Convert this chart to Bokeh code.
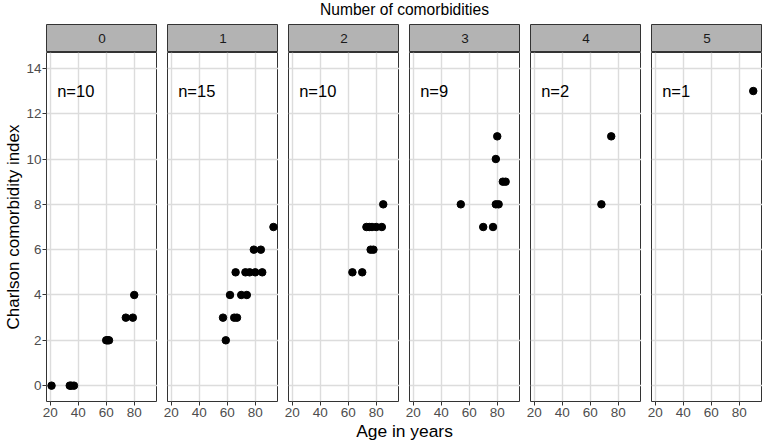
from bokeh.plotting import figure
from bokeh.layouts import column, row
from bokeh.models import Range1d, FixedTicker, ColumnDataSource
from bokeh.core.properties import value
from bokeh.embed import file_html
from bokeh.resources import INLINE

# ---- data ----
comorbidities = [0, 1, 2, 3, 4, 5]
ages_0 = [21, 34, 35, 37, 60, 61, 62, 74, 79, 80]
cci_0 = [0, 0, 0, 0, 2, 2, 2, 3, 3, 4]
ages_1 = [93, 79, 84, 66, 73, 76, 80, 85, 62, 70, 74, 57, 65, 67, 59]
cci_1 = [7, 6, 6, 5, 5, 5, 5, 5, 4, 4, 4, 3, 3, 3, 2]
ages_2 = [85, 73, 75, 77, 80, 84, 76, 78, 63, 70]
cci_2 = [8, 7, 7, 7, 7, 7, 6, 6, 5, 5]
ages_3 = [80, 79, 84, 86, 54, 79, 81, 70, 77]
cci_3 = [11, 10, 9, 9, 8, 8, 8, 7, 7]
ages_4 = [68, 75]
cci_4 = [8, 11]
ages_5 = [90]
cci_5 = [13]

ages = [ages_0, ages_1, ages_2, ages_3, ages_4, ages_5]
ccis = [cci_0, cci_1, cci_2, cci_3, cci_4, cci_5]

x_ticks = [20, 40, 60, 80]
y_ticks = [0, 2, 4, 6, 8, 10, 12, 14]
y_limits = (0, 14)
n_label_x = 25
n_label_y = 13

title_text = "Number of comorbidities"
x_title = "Age in years"
y_title = "Charlson comorbidity index"

# ---- style ----
FONT = "Liberation Sans"
FRAME_W = 111
GAP = 10
LEFT = 46
TITLE_H = 24
STRIP_H = 28
PANEL_H = 349
XLAB_H = 21
STRIP_FILL = "#B3B3B3"
BORDER = "#333333"
GRID = "#DCDCDC"

all_ages = [a for grp in ages for a in grp]
xpad = 0.05 * (max(all_ages) - min(all_ages))
x0, x1 = min(all_ages) - xpad, max(all_ages) + xpad
ypad = 0.05 * (y_limits[1] - y_limits[0])
y0, y1 = y_limits[0] - ypad, y_limits[1] + ypad

strips = []
panels = []
for i, c in enumerate(comorbidities):
    lb = LEFT if i == 0 else GAP
    s = figure(frame_width=FRAME_W, frame_height=STRIP_H,
               x_range=Range1d(x0, x1), y_range=Range1d(0, 1),
               x_axis_location=None, y_axis_location=None,
               output_backend="svg", toolbar_location=None,
               min_border_left=lb, min_border_right=0,
               min_border_top=0, min_border_bottom=0)
    s.grid.visible = False
    s.background_fill_color = STRIP_FILL
    s.outline_line_color = BORDER
    s.outline_line_width = 1
    s.text(x=[(x0 + x1) / 2], y=[0.5], text=[str(c)], text_align="center",
           text_baseline="middle", text_font=value(FONT),
           text_font_size="13.5px", text_color="#1A1A1A")
    strips.append(s)

    p = figure(frame_width=FRAME_W, frame_height=PANEL_H,
               x_range=Range1d(x0, x1), y_range=Range1d(y0, y1),
               y_axis_location="left" if i == 0 else None,
               output_backend="svg", toolbar_location=None,
               min_border_left=lb, min_border_right=0,
               min_border_top=0, min_border_bottom=0)
    p.background_fill_color = "white"
    p.outline_line_color = BORDER
    p.outline_line_width = 1
    p.xgrid.ticker = FixedTicker(ticks=x_ticks)
    p.ygrid.ticker = FixedTicker(ticks=y_ticks)
    p.grid.grid_line_color = GRID
    p.grid.grid_line_width = 1.4
    axes = [p.xaxis[0]] + ([p.yaxis[0]] if i == 0 else [])
    for ax in axes:
        ax.axis_line_color = None
        ax.major_tick_out = 4
        ax.major_tick_in = 0
        ax.minor_tick_out = 0
        ax.minor_tick_in = 0
        ax.major_tick_line_color = BORDER
        ax.major_label_text_font = FONT
        ax.major_label_text_font_size = "13.5px"
        ax.major_label_text_color = "#4D4D4D"
        ax.major_label_standoff = 2
    p.xaxis.ticker = FixedTicker(ticks=x_ticks)
    if i == 0:
        p.yaxis.ticker = FixedTicker(ticks=y_ticks)
        p.yaxis.major_label_standoff = 1
        p.yaxis.axis_label = y_title
        p.yaxis.axis_label_text_font = FONT
        p.yaxis.axis_label_text_font_size = "17px"
        p.yaxis.axis_label_text_font_style = "normal"
        p.yaxis.axis_label_text_color = "black"
        p.yaxis.axis_label_standoff = 0
    src = ColumnDataSource(dict(age=ages[i], cci=ccis[i]))
    p.scatter(x="age", y="cci", source=src, size=7.5, color="black")
    p.text(x=[n_label_x], y=[n_label_y], text=[f"n={len(ages[i])}"],
           text_align="left", text_baseline="middle", text_font=value(FONT),
           text_font_size="16.5px", text_color="black")
    panels.append(p)

TOTAL_W = FRAME_W * 6 + GAP * 5


def label_fig(txt, h, size, ypos):
    f = figure(frame_width=TOTAL_W, frame_height=h,
               x_range=Range1d(0, 1), y_range=Range1d(0, 1),
               x_axis_location=None, y_axis_location=None,
               output_backend="svg", toolbar_location=None,
               min_border_left=LEFT, min_border_right=0,
               min_border_top=0, min_border_bottom=0)
    f.grid.visible = False
    f.outline_line_color = None
    f.text(x=[0.5], y=[ypos], text=[txt], text_align="center",
           text_baseline="middle", text_font=value(FONT),
           text_font_size=size, text_color="black")
    return f


top = label_fig(title_text, TITLE_H, "15.6px", 0.62)
bottom = label_fig(x_title, XLAB_H, "17.4px", 0.45)

layout = column(top, row(*strips), row(*panels), bottom)

open("out.html", "w").write(file_html(layout, INLINE))
